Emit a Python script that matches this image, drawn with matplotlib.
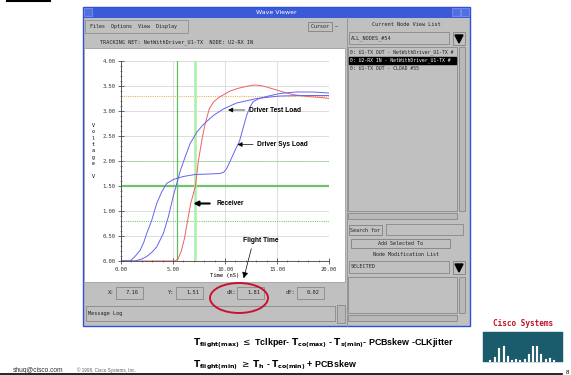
import matplotlib
matplotlib.use("Agg")
import matplotlib.pyplot as plt
from matplotlib.patches import Rectangle, Ellipse, Polygon
from matplotlib.ticker import MultipleLocator, FormatStrFormatter

# waveform data (time in nS, voltage in V)
sys_t = [0, 0.87, 1.3, 1.83, 2.2, 2.47, 2.95, 3.43, 3.91, 4.39, 5.03, 5.99, 7.12,
         8.5, 9.52, 9.9, 10.16, 10.5, 10.96, 11.4, 11.8, 12.08, 12.4, 12.72,
         13.3, 14.0, 15.27, 16.87, 18.47, 20]
sys_v = [0, 0, 0.08, 0.21, 0.38, 0.55, 0.81, 1.15, 1.38, 1.55, 1.63, 1.69, 1.73,
         1.74, 1.75, 1.78, 1.85, 2.0, 2.21, 2.4, 2.7, 2.91, 3.08, 3.19,
         3.25, 3.29, 3.35, 3.38, 3.38, 3.36]

test_t = [0, 1.35, 2.0, 2.47, 3.0, 3.43, 4.07, 4.55, 5.03, 5.3, 5.69, 6.2, 6.65,
          7.3, 7.92, 8.88, 9.84, 11.12, 13.04, 15.27, 17.5, 20]
test_v = [0, 0, 0.04, 0.09, 0.18, 0.28, 0.55, 0.88, 1.3, 1.5, 1.8, 2.1, 2.35,
          2.58, 2.73, 2.91, 3.04, 3.16, 3.25, 3.3, 3.31, 3.31]

recv_t = [0, 5.2, 5.5, 5.8, 6.1, 6.4, 6.7, 7.16, 7.44, 7.8, 8.1, 8.5, 8.9, 9.4,
          9.9, 10.5, 11.2, 12.0, 12.8, 13.4, 14.0, 14.8, 15.6, 16.5, 17.5,
          18.5, 19.3, 20]
recv_v = [0, 0, 0.05, 0.2, 0.45, 0.8, 1.15, 1.5, 2.0, 2.45, 2.75, 3.05, 3.18,
          3.27, 3.33, 3.4, 3.45, 3.49, 3.52, 3.51, 3.48, 3.43, 3.38, 3.33,
          3.3, 3.28, 3.27, 3.25]

cursor_x = [5.35, 7.16]
v_high, v_mid, v_low, v_rail = 2.0, 1.5, 0.8, 3.3
fields = [("X:", "7.16"), ("Y:", "1.51"), ("dX:", "1.81"), ("dY:", "0.02")]
node_list = ["0: U1-TX OUT - NetWithDriver_U1-TX #",
             "0: U2-RX IN - NetWithDriver_U1-TX #",
             "0: U1-TX OUT - CLOAD #55"]

W, H = 571, 375
fig = plt.figure(figsize=(W / 100, H / 100), dpi=100)
fig.patch.set_facecolor("white")

# background layer in pixel coordinates (origin top-left)
bg = fig.add_axes([0, 0, 1, 1])
bg.set_xlim(0, W)
bg.set_ylim(H, 0)
bg.axis("off")

GREY = "#c0c0c0"
MONO = "DejaVu Sans Mono"


def box(x0, y0, x1, y1, face=GREY, edge="#808080", lw=0.6, z=1):
    bg.add_patch(Rectangle((x0, y0), x1 - x0, y1 - y0, facecolor=face,
                           edgecolor=edge, lw=lw, zorder=z))


def label(x, y, s, size=4, color="#202020", ha="left", **kw):
    bg.text(x, y, s, fontsize=size, color=color, ha=ha, va="center",
            family=MONO, zorder=5, **kw)


# top black mark
bg.plot([7, 50], [0.8, 0.8], color="black", lw=1.5)

# window
box(83, 7, 470, 326, face=GREY, edge="#3050e0", lw=1.0)
box(83, 7, 470, 17, face="#3a5ad8", edge="#3050e0", lw=0.6)
bg.text(276, 12, "Wave Viewer", fontsize=4.5, color="white", ha="center",
        va="center", family="DejaVu Sans", zorder=5)
box(84, 8, 92, 16, face="#5070e0", edge="#8098f0", lw=0.5)
box(452, 8, 460, 16, face="#5070e0", edge="#8098f0", lw=0.5)
box(461, 8, 469, 16, face="#5070e0", edge="#8098f0", lw=0.5)

# menu bar
box(85, 20, 188, 33, edge="#909090")
label(90, 26.5, "Files  Options  View  Display", size=3.6)
box(308, 22, 332, 31, edge="#808080")
label(311, 26.5, "Cursor  \u2014", size=3.6)
label(100, 42, "TRACKING NET: NetWithDriver_U1-TX  NODE: U2-RX IN", size=3.7)

# white plot panel
box(84, 48, 345, 282, face="white", edge="#a0a0a0", lw=0.6)

# cursor value fields
fx = [(108, 116), (168, 176), (227, 237), (286, 297)]
for (lx, bx), (name, val) in zip(fx, fields):
    label(lx, 293, name, size=3.9)
    box(bx, 287, bx + 27, 299, face=GREY, edge="#888888")
    label(bx + 23, 293, val, size=3.9, ha="right")

# flight time highlight
bg.add_patch(Ellipse((239, 298), 58, 30, fill=False, edgecolor="#cc1030",
                     lw=1.4, zorder=6))
bg.annotate("", xy=(243, 281), xytext=(252, 246),
            arrowprops=dict(arrowstyle="-|>", color="black", lw=0.5,
                            mutation_scale=9), zorder=6)

# message log
box(86, 306, 335, 321, face=GREY, edge="#888888")
label(88, 313.5, "Message Log", size=3.7)
box(337, 305, 345, 323, face="#b8b8b8", edge="#888888")

# right side panel
bg.plot([347, 347], [17, 326], color="#909090", lw=0.6)
label(406, 25, "Current Node View List", size=3.7, ha="center")
box(349, 32, 449, 44, face=GREY, edge="#888888")
label(351, 38, "ALL_NODES_#54", size=3.7)
box(453, 32, 465, 45, face=GREY, edge="#808080")
bg.add_patch(Polygon([[455, 35], [463, 35], [459, 43]], color="black", zorder=5))
box(348, 47, 457, 211, face=GREY, edge="#888888")
bg.add_patch(Rectangle((349, 57), 107, 6.5, color="black", zorder=4))
for i, s in enumerate(node_list):
    label(350, 52.5 + 8 * i, s, size=3.4, color="white" if i == 1 else "#202020")
box(459, 47, 465, 211, face="#b8b8b8", edge="#888888")
box(348, 213, 457, 219, face="#b8b8b8", edge="#888888")
box(349, 225, 382, 235, face=GREY, edge="#808080")
label(365.5, 230, "Search for", size=3.6, ha="center")
box(386, 224, 463, 235, face=GREY, edge="#888888")
box(351, 239, 450, 248, face=GREY, edge="#808080")
label(400, 243.5, "Add Selected To", size=3.6, ha="center")
label(406, 255, "Node Modification List", size=3.6, ha="center")
box(349, 261, 449, 273, face=GREY, edge="#888888")
label(351, 267, "SELECTED", size=3.7)
box(453, 261, 465, 274, face=GREY, edge="#808080")
bg.add_patch(Polygon([[455, 264], [463, 264], [459, 272]], color="black", zorder=5))
box(348, 277, 457, 313, face=GREY, edge="#888888")
box(459, 277, 465, 313, face="#b8b8b8", edge="#888888")
box(348, 315, 457, 321, face="#b8b8b8", edge="#888888")

# slide footer
SANS = "Liberation Sans"
bg.text(193, 343, r"$\mathbf{T_{flight(max)}}$ $\leq$ Tclkper- $\mathbf{T_{co(max)}}$ - "
        r"$\mathbf{T_{s(min)}}$- PCBskew -CLKjitter",
        fontsize=6.4, fontweight="bold", family=SANS, va="center", zorder=5)
bg.text(193, 365, r"$\mathbf{T_{flight(min)}}$ $\geq$ $\mathbf{T_h}$ - "
        r"$\mathbf{T_{co(min)}}$ + PCBskew",
        fontsize=6.4, fontweight="bold", family=SANS, va="center", zorder=5)
bg.text(13, 370, "shuq@cisco.com", fontsize=4.8, family=SANS, va="center",
        color="#303030")
bg.text(77, 370, "\u00a9 1998, Cisco Systems, Inc.", fontsize=3.3, family=SANS,
        va="center", color="#606060")
bg.text(567, 372, "8", fontsize=4.5, family=SANS, ha="center", va="center")
bg.plot([0, 562], [374, 374], color="black", lw=1.2)

# cisco logo
bg.text(523, 323, "Cisco Systems", fontsize=5.6, fontweight="bold",
        family=MONO, color="#c0102a", ha="center", va="center")
box(483, 332, 563, 362, face="#1a5c6c", edge="#1a5c6c", lw=0.3)
bar_x = [489, 494, 498, 503, 507, 511, 515, 519, 524, 528, 532, 536, 540, 545, 549, 553]
bar_h = [2, 5, 14, 16, 6, 2, 3, 2, 3, 8, 16, 16, 8, 3, 4, 2]
for bx, bh in zip(bar_x, bar_h):
    box(bx, 362 - bh, bx + 1.6, 362, face="white", edge="white", lw=0.1, z=2)

# waveform axes
ax = fig.add_axes([121 / W, 1 - 261 / H, 208 / W, 200 / H], zorder=3)
ax.set_facecolor("none")
ax.set_xlim(0, 20)
ax.set_ylim(0, 4)
ax.xaxis.set_major_locator(MultipleLocator(5))
ax.xaxis.set_minor_locator(MultipleLocator(1))
ax.yaxis.set_major_locator(MultipleLocator(0.5))
ax.yaxis.set_minor_locator(MultipleLocator(0.1))
ax.xaxis.set_major_formatter(FormatStrFormatter("%.2f"))
ax.yaxis.set_major_formatter(FormatStrFormatter("%.2f"))
ax.grid(True, which="major", color="#d8d8d8", lw=0.6)
ax.set_axisbelow(True)
for side in ["top", "right"]:
    ax.spines[side].set_visible(False)
for side in ["left", "bottom"]:
    ax.spines[side].set_color("#404040")
    ax.spines[side].set_linewidth(0.6)
ax.tick_params(which="major", direction="inout", length=4, width=0.5,
               labelsize=4, colors="#303030", pad=2)
ax.tick_params(which="minor", direction="inout", length=2, width=0.4,
               colors="#404040")
for lbl in ax.get_xticklabels() + ax.get_yticklabels():
    lbl.set_family(MONO)

ax.axhline(v_rail, color="#f0b060", lw=0.8, ls=(0, (1, 1)))
ax.axhline(v_high, color="#70d070", lw=0.6, ls=(0, (1, 1)))
ax.axhline(v_low, color="#70d070", lw=0.8, ls=(0, (1, 1)))
ax.axhline(v_mid, color="#70c070", lw=1.6)
ax.axhline(0, color="#d04040", lw=0.8, ls=(0, (1, 1)))
ax.axvline(cursor_x[0], color="#60c060", lw=0.9)
ax.axvline(cursor_x[1], color="#a8f0a8", lw=1.8)

ax.plot(recv_t, recv_v, color="#f06060", lw=0.7)
ax.plot(sys_t, sys_v, color="#6464f0", lw=0.7)
ax.plot(test_t, test_v, color="#6464f0", lw=0.7)

ax.set_xlabel("Time (nS)", fontsize=4, family=MONO, labelpad=1)
ax.text(-0.135, 0.55, "V\no\nl\nt\na\ng\ne\n\nV", transform=ax.transAxes,
        fontsize=3.6, family=MONO, ha="center", va="center", linespacing=1.35)

thin = dict(arrowstyle="-|>", color="black", lw=0.5, mutation_scale=7)
ax.annotate("Driver Test Load", xy=(10.3, 3.02), xytext=(12.3, 3.02),
            fontsize=4.8, fontweight="bold", family=SANS, va="center",
            arrowprops=dict(thin, shrinkA=1, shrinkB=0))
ax.annotate("Driver Sys Load", xy=(11.2, 2.33), xytext=(13.1, 2.33),
            fontsize=4.8, fontweight="bold", family=SANS, va="center",
            arrowprops=dict(thin, shrinkA=1, shrinkB=0))
ax.annotate("Receiver", xy=(6.95, 1.15), xytext=(9.2, 1.15),
            fontsize=4.8, fontweight="bold", family=SANS, va="center",
            arrowprops=dict(arrowstyle="-|>", color="black", lw=1.5,
                            mutation_scale=7, shrinkA=3, shrinkB=0))
ax.text(11.7, 0.42, "Flight Time", fontsize=4.8, fontweight="bold",
        family=SANS, va="center")

fig.savefig("out.png", dpi=100)
